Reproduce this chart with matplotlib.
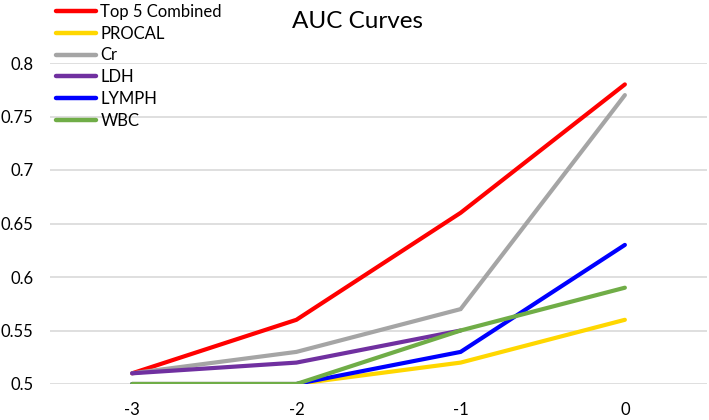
import matplotlib
matplotlib.use("Agg")
import matplotlib.pyplot as plt

# AUC per day offset
days = ["-3", "-2", "-1", "0"]
top5 = [0.51, 0.56, 0.66, 0.78]
procal = [0.50, 0.50, 0.52, 0.56]
cr = [0.51, 0.53, 0.57, 0.77]
ldh = [0.51, 0.52, 0.55, None]
lymph = [0.50, 0.50, 0.53, 0.63]
wbc = [0.50, 0.50, 0.55, 0.59]

series = [
    ("Top 5 Combined", top5, "#FF0000"),
    ("PROCAL", procal, "#FFD700"),
    ("Cr", cr, "#A5A5A5"),
    ("LDH", ldh, "#7030A0"),
    ("LYMPH", lymph, "#0000FF"),
    ("WBC", wbc, "#70AD47"),
]

plt.rcParams["font.family"] = ["Lato", "DejaVu Sans"]

fig = plt.figure(figsize=(7.09, 4.2), dpi=100)
ax = fig.add_axes([50 / 709, 1 - 384 / 420, 657 / 709, 321 / 420])

x = list(range(len(days)))
for name, vals, col in series:
    xs = [i for i, v in zip(x, vals) if v is not None]
    ys = [v for v in vals if v is not None]
    ax.plot(xs, ys, color=col, lw=3.0, solid_capstyle="round",
            solid_joinstyle="miter", label=name, zorder=3)

ax.set_xlim(-0.5, len(days) - 0.5)
ax.set_ylim(0.5, 0.8)
ax.set_yticks([0.5, 0.55, 0.6, 0.65, 0.7, 0.75, 0.8])
ax.set_yticklabels(["0.5", "0.55", "0.6", "0.65", "0.7", "0.75", "0.8"])
ax.set_xticks(x)
ax.set_xticklabels(days)
ax.tick_params(length=0, labelsize=12, colors="#000000")
ax.tick_params(axis="y", pad=12)
ax.tick_params(axis="x", pad=13)
ax.grid(axis="y", color="#D9D9D9", lw=1.2, zorder=0)
ax.set_axisbelow(True)
for s in ax.spines.values():
    s.set_visible(False)

fig.text(357 / 709, 1 - 22 / 420, "AUC Curves", ha="center", va="center",
         fontsize=17.5, color="#000000")

leg = fig.legend(loc="upper left", bbox_to_anchor=(52 / 709, 1.0),
                 bbox_transform=fig.transFigure,
                 frameon=False, fontsize=12, handlelength=2.4,
                 handletextpad=0.25, labelspacing=0.34, borderaxespad=0.0,
                 borderpad=0.25)
for h in leg.get_lines():
    h.set_linewidth(3.2)
    h.set_solid_capstyle("round")

fig.savefig("out.png", dpi=100)
